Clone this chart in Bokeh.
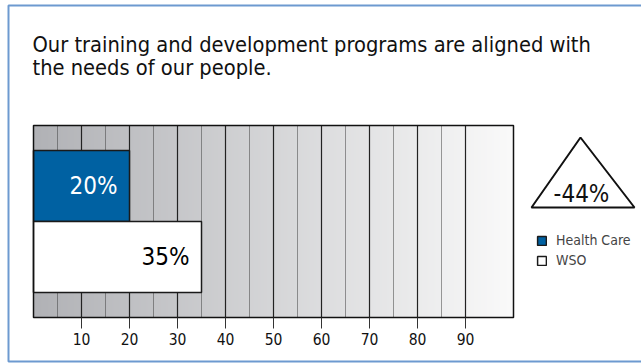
import numpy as np
from bokeh.plotting import figure
from bokeh.models import (Range1d, FixedTicker, Label, PolyAnnotation,
                          BoxAnnotation, Legend, LegendItem, ColumnDataSource)
from bokeh.core.properties import value
from bokeh.embed import file_html
from bokeh.resources import INLINE

# ---- data ----
title_lines = ["Our training and development programs are aligned with",
               "the needs of our people."]
categories = ["Health Care", "WSO"]
values = [20, 35]
bar_labels = ["20%", "35%"]
bar_colors = ["#0061a2", "#ffffff"]
label_colors = ["#ffffff", "#000000"]
change_label = "-44%"
tick_values = [10, 20, 30, 40, 50, 60, 70, 80, 90]
minor_values = [5, 15, 25, 35, 45, 55, 65, 75, 85]

FONT = "DejaVu Sans Condensed"
W, H = 641, 363

# plot-area geometry (pixels on the page)
PL, PR, PT, PB = 33, 513, 125, 317
X0, X1 = 0, 100             # value axis extent
BAND = 0.35                 # empty band above / below the bars (in bar heights)
Y0, Y1 = -BAND, len(categories) + BAND
sx = (PR - PL) / (X1 - X0)
sy = (PB - PT) / (Y1 - Y0)

p = figure(width=W, height=H,
           x_range=Range1d(X0 - PL / sx, X1 + (W - PR) / sx),
           y_range=Range1d(Y0 - (H - PB) / sy, Y1 + PT / sy),
           output_backend="svg", toolbar_location=None, tools="",
           min_border=0, min_border_left=0, min_border_right=0,
           min_border_top=0, min_border_bottom=0, y_axis_location=None)
p.background_fill_color = "white"
p.border_fill_color = "white"
p.outline_line_color = None
p.xgrid.visible = False
p.ygrid.visible = False

# gradient background of plot area (styling)
n = 480
img = np.empty((1, n), dtype=np.uint32)
view = img.view(dtype=np.uint8).reshape((1, n, 4))
c0 = np.array([177, 178, 182])
c1 = np.array([250, 250, 250])
t = np.linspace(0, 1, n)[:, None]
view[0, :, :3] = (c0 + (c1 - c0) * t).astype(np.uint8)
view[0, :, 3] = 255
p.image_rgba(image=[img], x=X0, y=Y0, dw=X1 - X0, dh=Y1 - Y0)

# grid lines
p.segment(x0=minor_values, x1=minor_values, y0=Y0, y1=Y1, line_color="#3a3a3a",
          line_width=1, line_dash="1 1")
p.segment(x0=tick_values, x1=tick_values, y0=Y0, y1=Y1, line_color="#222222", line_width=1.2)

# bars
ypos = [len(categories) - 0.5 - i for i in range(len(categories))]
src = ColumnDataSource(dict(cat=categories, y=ypos, val=values, lab=bar_labels,
                            color=bar_colors, tcolor=label_colors))
r = p.hbar(y="y", left=0, right="val", height=1.0, fill_color="color",
           line_color="#1a1a1a", line_width=1.5, source=src)
p.text(x="val", y="y", text="lab", x_offset=-12, text_align="right",
       text_baseline="middle", text_color="tcolor", text_font=value(FONT),
       text_font_size="24px", source=src)

# plot-area outline
p.quad(left=X0, right=X1, bottom=Y0, top=Y1, fill_color=None,
       line_color="#111111", line_width=1.5)

# axis at bottom of plot area
p.xaxis.fixed_location = Y0
p.xaxis.ticker = FixedTicker(ticks=tick_values)
p.xaxis.axis_line_color = None
p.xaxis.minor_tick_line_color = None
p.xaxis.major_tick_in = 0
p.xaxis.major_tick_out = 11
p.xaxis.major_tick_line_color = "#333333"
p.xaxis.major_label_text_font = FONT
p.xaxis.major_label_text_font_size = "15.5px"
p.xaxis.major_label_text_color = "#111111"
p.xaxis.major_label_standoff = 4

# title
for i, tl in enumerate(title_lines):
    p.add_layout(Label(x=32, y=H - 44 - 22.5 * i, x_units="screen", y_units="screen",
                       text=tl, text_font=FONT, text_font_size="21.7px",
                       text_color="#111111", text_baseline="alphabetic"))

# triangle with change
p.add_layout(PolyAnnotation(xs=[531, 580, 634], ys=[H - 207, H - 137, H - 207],
                            xs_units="screen", ys_units="screen",
                            fill_color="white", fill_alpha=1.0,
                            line_color="#111111", line_alpha=1.0, line_width=2))
p.add_layout(Label(x=581, y=H - 193, x_units="screen", y_units="screen",
                   text=change_label, text_font=FONT, text_font_size="24px",
                   text_align="center", text_baseline="middle", text_color="#111111"))

# legend
legend = Legend(items=[LegendItem(label=categories[0], renderers=[r], index=0),
                       LegendItem(label=categories[1], renderers=[r], index=1)],
                location=(536, H - 270), glyph_width=11, glyph_height=11,
                label_standoff=9, label_height=20, spacing=0, padding=0, margin=0,
                label_text_font=FONT, label_text_font_size="14px",
                background_fill_alpha=0, border_line_color=None)
p.add_layout(legend)

# outer panel border
p.add_layout(BoxAnnotation(left=8, right=700, bottom=2, top=H - 5,
                           left_units="screen", right_units="screen",
                           top_units="screen", bottom_units="screen",
                           fill_color=None, fill_alpha=0, line_color="#6d9ad0",
                           line_alpha=1.0, line_width=2))

open("out.html", "w").write(file_html(p, INLINE))
